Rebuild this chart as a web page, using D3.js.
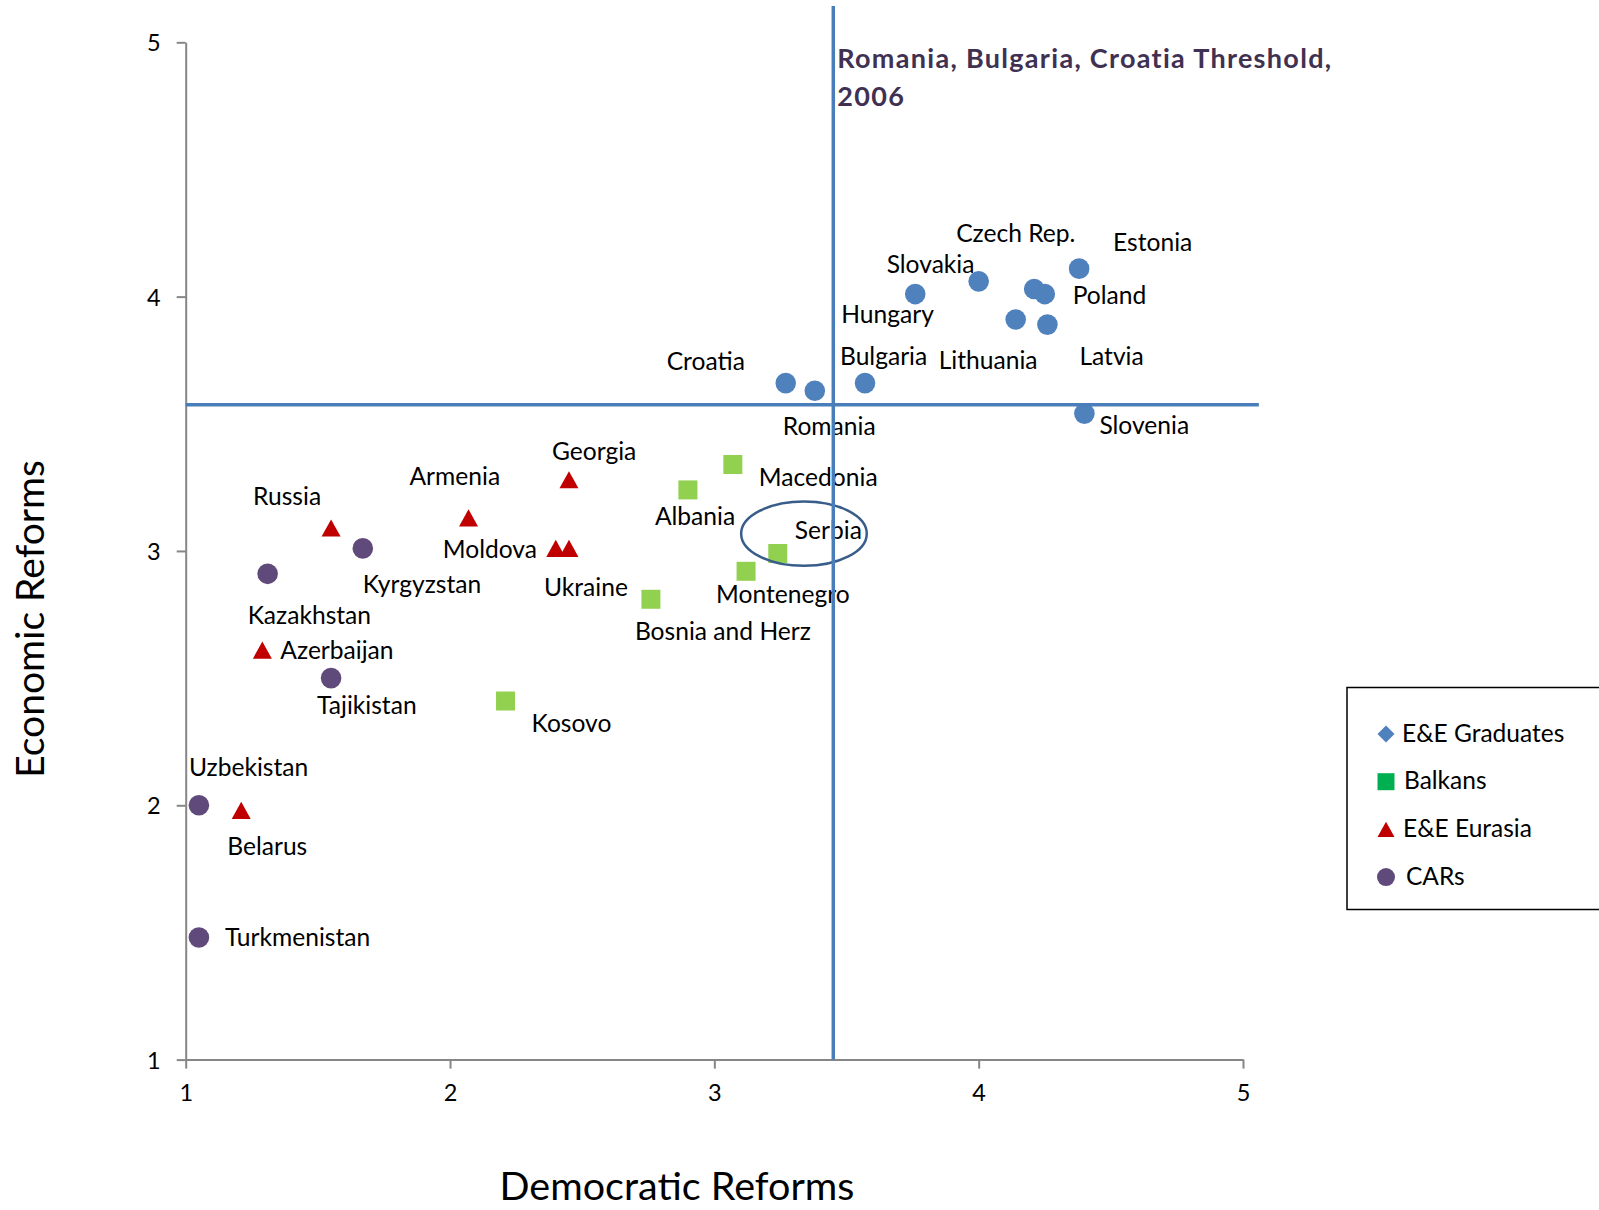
<!DOCTYPE html>
<html>
<head>
<meta charset="utf-8">
<script src="https://cdn.jsdelivr.net/npm/d3@7"></script>
<style>
  html, body { margin: 0; padding: 0; background: #fff; }
  svg { display: block; font-family: Lato, "Open Sans", sans-serif; }
</style>
</head>
<body>
<svg id="chart" width="1599" height="1210"></svg>
<script>
// ---------- data ----------
const xTicks = [1, 2, 3, 4, 5];
const yTicks = [1, 2, 3, 4, 5];

const graduates = [
  { name: "Hungary", x: 3.76, y: 4.01 },
  { name: "Slovakia", x: 4.00, y: 4.06 },
  { name: "Czech Rep.", x: 4.21, y: 4.03 },
  { name: "Poland", x: 4.25, y: 4.01 },
  { name: "Estonia", x: 4.38, y: 4.11 },
  { name: "Lithuania", x: 4.14, y: 3.91 },
  { name: "Latvia", x: 4.26, y: 3.89 },
  { name: "Slovenia", x: 4.40, y: 3.54 },
  { name: "Bulgaria", x: 3.57, y: 3.66 },
  { name: "Romania", x: 3.38, y: 3.63 },
  { name: "Croatia", x: 3.27, y: 3.66 }
];
const balkans = [
  { name: "Macedonia", x: 3.07, y: 3.34 },
  { name: "Albania", x: 2.90, y: 3.24 },
  { name: "Serbia", x: 3.24, y: 2.99 },
  { name: "Montenegro", x: 3.12, y: 2.92 },
  { name: "Bosnia and Herz", x: 2.76, y: 2.81 },
  { name: "Kosovo", x: 2.21, y: 2.41 }
];
const eurasia = [
  { name: "Russia", x: 1.55, y: 3.09 },
  { name: "Armenia", x: 2.07, y: 3.13 },
  { name: "Georgia", x: 2.45, y: 3.28 },
  { name: "Moldova", x: 2.40, y: 3.01 },
  { name: "Ukraine", x: 2.45, y: 3.01 },
  { name: "Azerbaijan", x: 1.29, y: 2.61 },
  { name: "Belarus", x: 1.21, y: 1.98 }
];
const cars = [
  { name: "Kyrgyzstan", x: 1.67, y: 3.01 },
  { name: "Kazakhstan", x: 1.31, y: 2.91 },
  { name: "Tajikistan", x: 1.55, y: 2.50 },
  { name: "Uzbekistan", x: 1.05, y: 2.00 },
  { name: "Turkmenistan", x: 1.05, y: 1.48 }
];
const seriesNames = ["E&E Graduates", "Balkans", "E&E Eurasia", "CARs"];

// threshold (Romania, Bulgaria, Croatia, 2006)
const thresholdX = 3.45;
const thresholdY = 3.575;
const thresholdTitle = ["Romania, Bulgaria, Croatia Threshold,", "2006"];
// highlighted region around Serbia: centre and radii in data units
const highlight = { cx: 3.339, cy: 3.068, rx: 0.2376, ry: 0.1266 };

const xTitle = "Democratic Reforms";
const yTitle = "Economic Reforms";

// ---------- layout (pixel offsets of labels from their marker) ----------
const labelOffset = {
  "Hungary": [-74, 29], "Slovakia": [-92, -8], "Czech Rep.": [-78, -47],
  "Poland": [28, 10], "Estonia": [34, -18], "Lithuania": [-77, 49],
  "Latvia": [32, 40], "Slovenia": [15, 20], "Bulgaria": [-25, -18],
  "Romania": [-32, 44], "Croatia": [-119, -13],
  "Macedonia": [26, 22], "Albania": [-33, 35], "Serbia": [17, -14],
  "Montenegro": [-30, 32], "Bosnia and Herz": [-16, 41], "Kosovo": [26, 31],
  "Russia": [-78, -23], "Armenia": [-59, -33], "Georgia": [-17, -20],
  "Moldova": [-113, 10], "Ukraine": [-25, 48], "Azerbaijan": [18, 9],
  "Belarus": [-14, 45],
  "Kyrgyzstan": [0, 45], "Kazakhstan": [-20, 50], "Tajikistan": [-14, 36],
  "Uzbekistan": [-10, -29], "Turkmenistan": [26, 8]
};

const colors = {
  grad: "#4f81bd", balkan: "#92d050", balkanLegend: "#00b050",
  eurasia: "#c00000", cars: "#604a7b", axis: "#868686",
  threshold: "#4a7ebb", title: "#403152", ellipse: "#385d8a"
};

// ---------- scales ----------
const svg = d3.select("#chart");
const x = d3.scaleLinear().domain([1, 5]).range([185.7, 1243]);
const y = d3.scaleLinear().domain([1, 5]).range([1059.6, 42.3]);

const labelFont = 24.6;

// custom triangle centred on its bounding box
const triBox = {
  draw(ctx, size) {
    const w = Math.sqrt(size), h = w * 0.9;
    ctx.moveTo(0, -h / 2);
    ctx.lineTo(w / 2, h / 2);
    ctx.lineTo(-w / 2, h / 2);
    ctx.closePath();
  }
};

// ---------- axes ----------
const gx = svg.append("g").attr("transform", `translate(0,${y(1)})`)
  .call(d3.axisBottom(x).tickValues(xTicks).tickSize(9).tickPadding(16).tickSizeOuter(0).tickFormat(d3.format("d")));
const gy = svg.append("g").attr("transform", `translate(${x(1)},0)`)
  .call(d3.axisLeft(y).tickValues(yTicks).tickSize(9).tickPadding(16).tickSizeOuter(0).tickFormat(d3.format("d")));
[gx, gy].forEach(g => {
  g.select(".domain").attr("stroke", colors.axis).attr("stroke-width", 2);
  g.selectAll(".tick line").attr("stroke", colors.axis).attr("stroke-width", 2);
  g.selectAll(".tick text").attr("fill", "#000").style("font-size", "23.5px").style("font-family", "Lato");
});
gy.selectAll(".tick text").attr("dy", "0.36em");

// axis titles
svg.append("text").attr("x", 677).attr("y", 1200).attr("text-anchor", "middle")
  .style("font-size", "39.5px").attr("fill", "#000").text(xTitle);
svg.append("text").attr("transform", `translate(44,${(y(1)+y(5))/2 + 68}) rotate(-90)`)
  .attr("text-anchor", "middle").style("font-size", "39px").attr("fill", "#000").text(yTitle);

// ---------- marks ----------
function drawSeries(data, symbolType, size, fill, cls) {
  svg.append("g").attr("class", cls).selectAll("path").data(data).join("path")
    .attr("transform", d => `translate(${x(d.x)},${y(d.y)})`)
    .attr("d", d3.symbol().type(symbolType).size(size)())
    .attr("fill", fill);
}
function drawLabels(data) {
  svg.append("g").selectAll("text").data(data).join("text")
    .attr("x", d => x(d.x) + labelOffset[d.name][0])
    .attr("y", d => y(d.y) + labelOffset[d.name][1])
    .style("font-size", labelFont + "px").attr("fill", "#000")
    .text(d => d.name);
}
[graduates, balkans, eurasia, cars].forEach(drawLabels);

drawSeries(graduates, d3.symbolCircle, Math.PI * 10.3 * 10.3, colors.grad, "grad");
drawSeries(balkans, d3.symbolSquare, 19 * 19, colors.balkan, "balk");
drawSeries(eurasia, triBox, 19 * 19, colors.eurasia, "eur");
drawSeries(cars, d3.symbolCircle, Math.PI * 10.3 * 10.3, colors.cars, "cars");

// highlight ellipse
svg.append("ellipse")
  .attr("cx", x(highlight.cx)).attr("cy", y(highlight.cy))
  .attr("rx", x(highlight.cx + highlight.rx) - x(highlight.cx))
  .attr("ry", y(highlight.cy - highlight.ry) - y(highlight.cy))
  .attr("fill", "none").attr("stroke", colors.ellipse).attr("stroke-width", 2.5);

// threshold lines
svg.append("line")
  .attr("x1", x(1)).attr("x2", x(5.06)).attr("y1", y(thresholdY)).attr("y2", y(thresholdY))
  .attr("stroke", colors.threshold).attr("stroke-width", 3.5);
svg.append("line")
  .attr("x1", x(thresholdX)).attr("x2", x(thresholdX)).attr("y1", y(1)).attr("y2", y(5.143))
  .attr("stroke", colors.threshold).attr("stroke-width", 3.5);

// threshold title
svg.append("g").selectAll("text").data(thresholdTitle).join("text")
  .attr("x", x(thresholdX) + 4).attr("y", (d, i) => 68 + i * 38)
  .style("font-size", "27px").style("font-weight", "bold").style("letter-spacing", "1.3px")
  .attr("fill", colors.title)
  .text(d => d);

// ---------- legend ----------
const legend = svg.append("g");
legend.append("rect").attr("x", 1347).attr("y", 687.5).attr("width", 300).attr("height", 222)
  .attr("fill", "#fff").attr("stroke", "#000").attr("stroke-width", 1.5);
const legendSymbols = [
  { type: d3.symbolSquare, size: 12 * 12, fill: colors.grad, rot: 45 },
  { type: d3.symbolSquare, size: 17 * 17, fill: colors.balkanLegend, rot: 0 },
  { type: triBox, size: 17 * 17, fill: colors.eurasia, rot: 0 },
  { type: d3.symbolCircle, size: Math.PI * 9 * 9, fill: colors.cars, rot: 0 }
];
const legendRows = legend.selectAll("g.row").data(seriesNames).join("g")
  .attr("class", "row")
  .attr("transform", (d, i) => `translate(1386,${734 + i * 47.7})`);
legendRows.append("path")
  .attr("d", (d, i) => d3.symbol().type(legendSymbols[i].type).size(legendSymbols[i].size)())
  .attr("transform", (d, i) => `rotate(${legendSymbols[i].rot})`)
  .attr("fill", (d, i) => legendSymbols[i].fill);
legendRows.append("text").attr("x", (d, i) => [16, 18, 17, 20][i]).attr("y", 7.5)
  .style("font-size", "24.5px").attr("fill", "#000").text(d => d);
</script>
</body>
</html>
